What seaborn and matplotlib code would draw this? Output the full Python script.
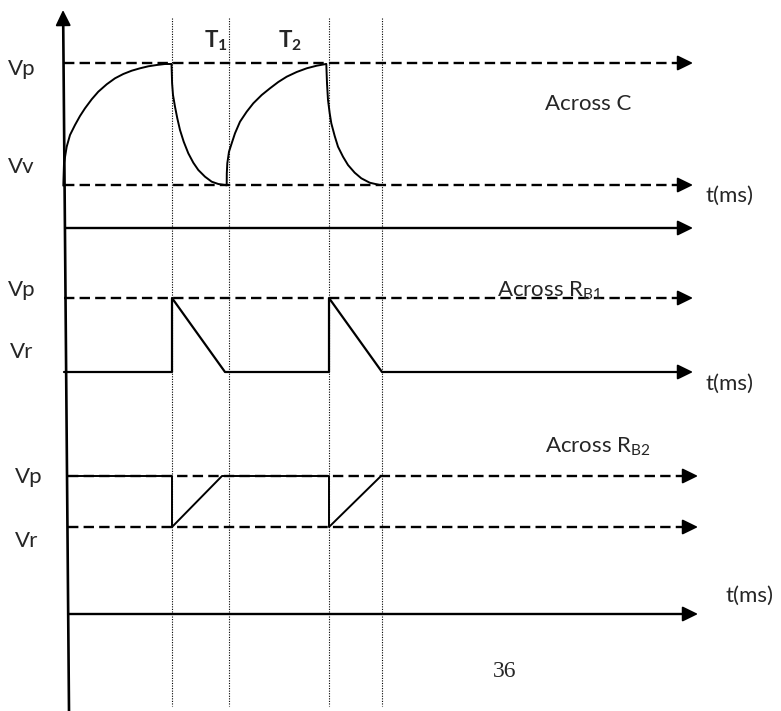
import matplotlib
matplotlib.use("Agg")
import matplotlib.pyplot as plt
import seaborn as sns

sns.set_theme(style="white")
plt.rcParams['font.family'] = ['Lato', 'DejaVu Sans']
plt.rcParams['mathtext.fontset'] = 'custom'
plt.rcParams['mathtext.rm'] = 'Lato'
plt.rcParams['mathtext.it'] = 'Lato:italic'
plt.rcParams['mathtext.bf'] = 'Lato:bold'

# ---------------- data (diagram units = canvas pixels) ----------------
# event instants (vertical dotted guides)
event_x = [172, 229, 329, 382]

# panel 1: voltage across C
charge1_x = [63.3, 64, 66.7, 70, 75, 80, 85, 91.7, 98.3, 106.7, 115, 123.3,
             131.7, 140, 148.3, 156.7, 165, 171.7]
charge1_y = [185.7, 163.3, 146.7, 135, 125, 116, 108.3, 99.3, 91.7, 84.3, 78.3,
             74, 70.7, 68.3, 66.3, 65, 64, 64]
disch1_x = [171.5, 171.8, 172.1, 173, 175, 177.3, 180, 183.7, 188.3, 193.3,
            198.3, 205, 211.7, 218.3, 226.7]
disch1_y = [64, 73.3, 83.3, 95, 106.7, 118.3, 130, 141.7, 153.3, 162.7,
            170, 176.7, 181.7, 184, 185.3]
charge2_x = [226.7, 226.8, 227.3, 229, 231.7, 235, 240, 246.7, 253.3, 261.7,
             270, 278.3, 286.7, 296.7, 306.7, 316.7, 326]
charge2_y = [185, 173.3, 163.3, 151.7, 143.3, 133.3, 121.7, 111.7, 103.3, 95,
             88.3, 82, 76.7, 72, 68.3, 65.7, 64]
disch2_x = [326.3, 327, 328, 329.7, 331.3, 334.7, 338, 343, 348, 354.7,
            361.3, 369.7, 379.7]
disch2_y = [64, 83.3, 100, 113.3, 123.3, 136, 146.7, 156.7, 165, 172.7,
            178.3, 182.7, 185]

# panel 2: across RB1
rb1_x = [64, 172, 172, 225, 329, 329, 382, 681]
rb1_y = [372, 372, 298, 372, 372, 298, 372, 372]

# panel 3: across RB2
rb2_x = [68, 172, 172, 222, 329, 329, 381]
rb2_y = [476, 476, 527, 476, 476, 527, 476]

# reference levels (y)
level_vp1, level_vv1, axis1 = 63, 185, 228
level_vp2, axis2 = 298, 372
level_vp3, level_vr3, axis3 = 476, 527, 614

fig = plt.figure(figsize=(7.81, 7.11), dpi=100)
ax = fig.add_axes([0, 0, 1, 1])
ax.set_xlim(0, 781)
ax.set_ylim(711, 0)
ax.axis("off")

K = "black"
dash = (0, (4.4, 2.2))
HEAD = 12


def arrowhead(x0, y0, x1, y1):
    ax.annotate("", xy=(x1, y1), xytext=(x0, y0),
                arrowprops=dict(arrowstyle="-|>,head_length=0.47,head_width=0.23",
                                mutation_scale=20, color=K, lw=1.4,
                                shrinkA=0, shrinkB=0))


def harrow(x0, x1, y, dashed):
    ax.plot([x0, x1 - HEAD + 1], [y, y], color=K, lw=1.7 if dashed else 1.7,
            linestyle=dash if dashed else "-", solid_capstyle="butt")
    arrowhead(x1 - HEAD, y, x1, y)


# vertical time guides
for x in event_x:
    ax.plot([x, x], [18, 706], color=K, lw=0.8, linestyle=(0, (1, 1.3)))

# main vertical axis
ax.plot([69, 63.2], [711, 22], color=K, lw=1.9)
arrowhead(63.2, 24, 63, 10)

# panel 1
harrow(64, 693, level_vp1, True)
harrow(64, 693, level_vv1, True)
harrow(64, 693, axis1, False)
for xs, ys in [(charge1_x, charge1_y), (disch1_x, disch1_y),
               (charge2_x, charge2_y), (disch2_x, disch2_y)]:
    sns.lineplot(x=xs, y=ys, sort=False, color=K, lw=1.4, ax=ax, estimator=None)

# panel 2
harrow(64, 693, level_vp2, True)
arrowhead(681, axis2, 693, axis2)
sns.lineplot(x=rb1_x, y=rb1_y, sort=False, color=K, lw=1.6, ax=ax, estimator=None)

# panel 3
harrow(68, 698, level_vp3, True)
harrow(68, 698, level_vr3, True)
harrow(68, 698, axis3, False)
sns.lineplot(x=rb2_x, y=rb2_y, sort=False, color=K, lw=1.4, ax=ax, estimator=None)

# level labels
FS = 16
ax.text(8, 75, "Vp", fontsize=FS, va="baseline")
ax.text(8, 173, "Vv", fontsize=FS, va="baseline")
ax.text(8, 296, "Vp", fontsize=FS, va="baseline")
ax.text(10, 358, "Vr", fontsize=FS, va="baseline")
ax.text(15, 483, "Vp", fontsize=FS, va="baseline")
ax.text(15, 547, "Vr", fontsize=FS, va="baseline")

# period labels
ax.text(204, 48, r"T$_\mathbf{1}$", fontsize=FS, fontweight="bold", va="baseline")
ax.text(278, 48, r"T$_\mathbf{2}$", fontsize=FS, fontweight="bold", va="baseline")

# panel titles
ax.text(545, 110, "Across C", fontsize=FS, va="baseline")
ax.text(497, 297, r"Across R$_{\mathrm{B1}}$", fontsize=FS, va="baseline")
ax.text(545, 453, r"Across R$_{\mathrm{B2}}$", fontsize=FS, va="baseline")

# time axis labels
ax.text(705, 202, "t(ms)", fontsize=FS, va="baseline")
ax.text(705, 390, "t(ms)", fontsize=FS, va="baseline")
ax.text(725, 602, "t(ms)", fontsize=FS, va="baseline")

# page number
ax.text(493, 677, "36", fontsize=17, va="baseline", family="Liberation Serif")

fig.savefig("out.png", dpi=100)
